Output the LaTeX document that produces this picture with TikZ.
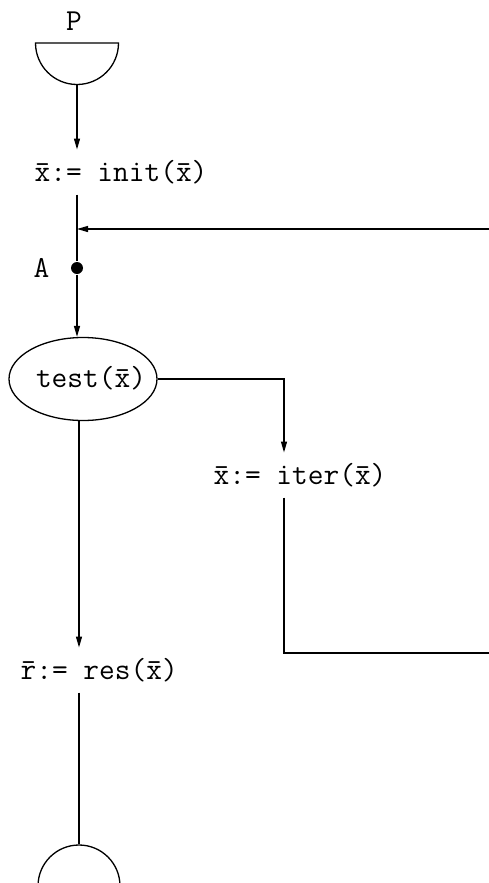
\documentclass[tikz,border=0pt]{standalone}
\usetikzlibrary{arrows.meta,shapes.geometric}
\begin{document}
\begin{tikzpicture}[x=1pt,y=1pt,
  line width=1.3pt,
  tt/.style={font=\fontsize{30.5}{36}\selectfont\ttfamily, inner xsep=0pt, inner ysep=10pt},
  lbl/.style={tt, anchor=west},
  arr/.style={-{Triangle[length=11pt,width=6pt]}},
  dotnode/.style={circle, fill=black, inner sep=0pt, minimum size=12pt}]
\clip (0,0) rectangle (489,-883);
\fill[white] (0,0) rectangle (489,-883);
% start symbol
\node[tt, inner ysep=0pt] (P) at (74,-21) {P};
\draw (35.5,-43) -- (118.5,-43) arc[start angle=0, end angle=-180, radius=41.5pt] -- cycle;
\coordinate (src) at (77,-84.5);
% nodes
\node[lbl] (init) at (34,-172) {\={x}:= init(\={x})};
\node[dotnode] (A) at (77,-268) {};
\node[tt, inner ysep=0pt, anchor=east] (Alab) at (50,-268) {A};
\node[ellipse, draw, minimum width=148pt, minimum height=83pt, inner sep=0pt] (test) at (83,-379) {};
\node[tt, inner ysep=0pt] (testlab) at (91,-378) {test(\={x})};
\node[lbl] (iter) at (213,-475) {\={x}:= iter(\={x})};
\coordinate (iterc) at (284,-475);
\node[lbl] (res) at (20,-670) {\={r}:= res(\={x})};
\node[circle, draw, minimum size=82pt, inner sep=0pt] (stop) at (79,-886) {};
\coordinate (loopR) at (489,-229);
\coordinate (exitR) at (489,-653);
% connectors
\draw[arr] (src) -- (src |- init.north);
\draw (src |- init.south) -- (A);
\draw[arr] (A) -- (A |- test.north);
\draw[arr] (loopR) -- (loopR -| A);
\draw[arr] (test.south -| stop.north) -- (stop.north |- res.north);
\draw (stop.north |- res.south) -- (stop.north);
\draw[arr] (test.east) -| (iterc |- iter.north);
\draw (iterc |- iter.south) -- (iterc |- exitR) -- (exitR);
\end{tikzpicture}
\end{document}
